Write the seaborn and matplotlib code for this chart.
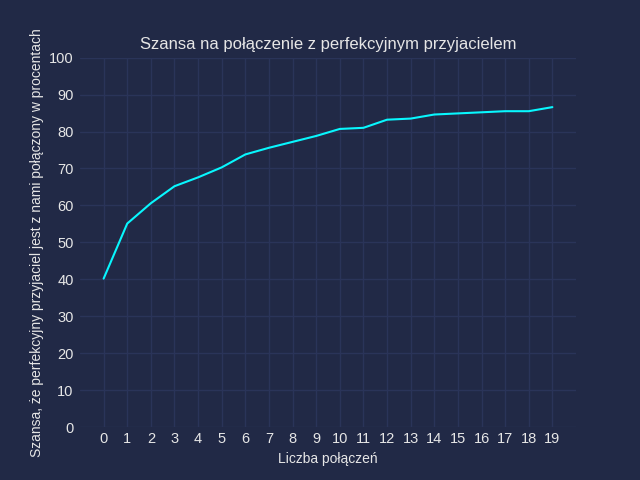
import matplotlib
matplotlib.use("Agg")
import matplotlib.pyplot as plt
import seaborn as sns
import pandas as pd

connections = list(range(20))
chance = [40.2, 55.1, 60.6, 65.2, 67.6, 70.3, 73.8, 75.6, 77.2, 78.8,
          80.7, 81.0, 83.2, 83.5, 84.6, 84.9, 85.2, 85.5, 85.5, 86.6]
y_ticks = list(range(0, 101, 10))

title = "Szansa na połączenie z perfekcyjnym przyjacielem"
xlabel = "Liczba połączeń"
ylabel = "Szansa, że perfekcyjny przyjaciel jest z nami połączony w procentach"

sns.set_theme(rc={
    "axes.facecolor": "#212946",
    "figure.facecolor": "#212946",
    "axes.edgecolor": "#212946",
    "grid.color": "#2A3459",
    "text.color": "0.9",
    "axes.labelcolor": "0.9",
    "xtick.color": "0.9",
    "ytick.color": "0.9",
    "axes.grid": True,
    "xtick.major.size": 0,
    "ytick.major.size": 0,
    "xtick.major.pad": 3.5,
    "ytick.major.pad": 4.5,
})
plt.rcParams["font.family"] = ["Liberation Sans", "DejaVu Sans"]

df = pd.DataFrame({"x": connections, "y": chance})

fig, ax = plt.subplots(figsize=(6.4, 4.8), dpi=100)
sns.lineplot(data=df, x="x", y="y", color="#08F7FE", linewidth=1.5, ax=ax)
ax.set_xlim(-1, 20)
ax.set_ylim(0, 100)
ax.set_xticks(connections)
ax.set_yticks(y_ticks)
ax.tick_params(labelsize=10.5)
ax.set_title(title, fontsize=12)
ax.set_xlabel(xlabel, fontsize=10)
ax.set_ylabel(ylabel, fontsize=10)
for s in ax.spines.values():
    s.set_visible(False)
fig.savefig("out.png", dpi=100)
